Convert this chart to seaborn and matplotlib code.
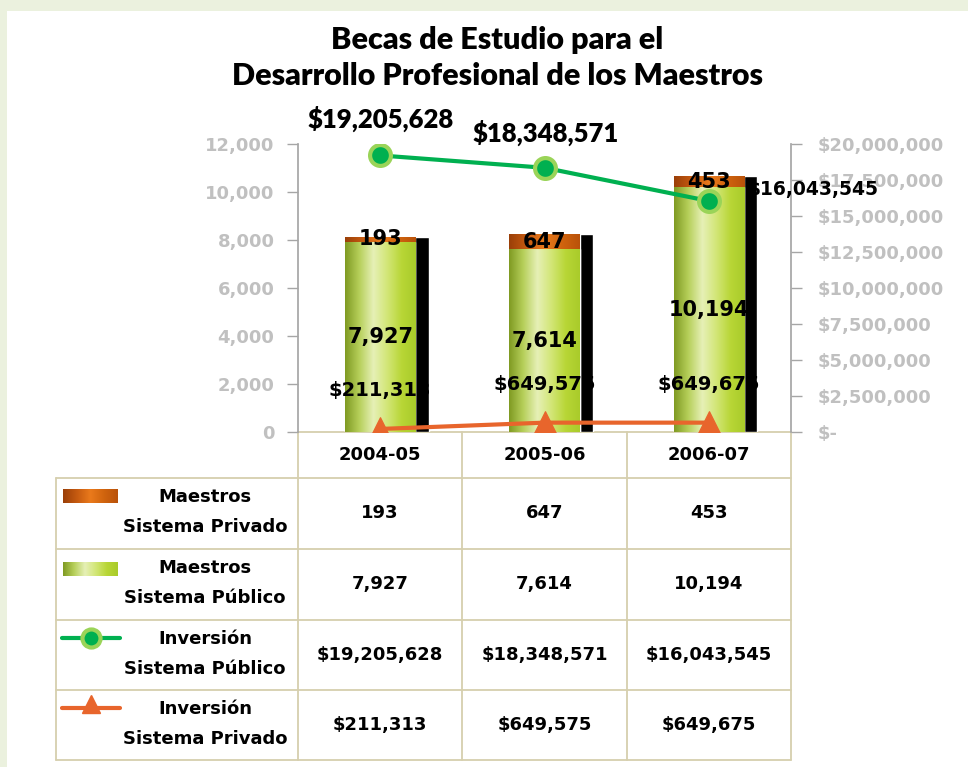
import numpy as np
import matplotlib.pyplot as plt
import seaborn as sns
from matplotlib.colors import LinearSegmentedColormap
from matplotlib.patches import Rectangle
from matplotlib.lines import Line2D

years = ['2004-05', '2005-06', '2006-07']
maestros_privado = [193, 647, 453]
maestros_publico = [7927, 7614, 10194]
inversion_publico = [19205628, 18348571, 16043545]
inversion_privado = [211313, 649575, 649675]

row_titles = [('Maestros', 'Sistema Privado'), ('Maestros', 'Sistema Público'),
              ('Inversión', 'Sistema Público'), ('Inversión', 'Sistema Privado')]
left_ticks = list(range(0, 12001, 2000))
right_ticks = [i * 2500000 for i in range(9)]

W, H = 968, 767
GREEN_LINE = '#00b050'
ORANGE_LINE = '#e8652c'
TABLE_LINE = '#d6cfae'

sns.set_theme(style='white')
plt.rcParams['font.family'] = ['Lato', 'DejaVu Sans']
plt.rcParams['text.color'] = 'black'

green_cmap = LinearSegmentedColormap.from_list(
    'cyl_green', ['#7f9a22', '#b6cf5a', '#e6f0b6', '#d2e676', '#b8d636', '#a9cb2a'])
orange_cmap = LinearSegmentedColormap.from_list(
    'cyl_orange', ['#9a3f08', '#c55a10', '#ea7a1c', '#d0640e', '#b9520a'])

fig = plt.figure(figsize=(W / 100, H / 100), dpi=100, facecolor='#ebf1de')

# pixel-space layer for background, title and the data table
lay = fig.add_axes([0, 0, 1, 1])
lay.set_xlim(0, W)
lay.set_ylim(H, 0)
lay.axis('off')
lay.add_patch(Rectangle((7, 11), W, H, facecolor='white', edgecolor='none', zorder=0))

lay.text(497, 40, 'Becas de Estudio para el', ha='center', va='center',
         fontsize=22, fontweight='heavy')
lay.text(497, 76, 'Desarrollo Profesional de los Maestros', ha='center', va='center',
         fontsize=22, fontweight='heavy')

# main chart area
ax_l, ax_t, ax_r, ax_b = 298, 144, 791, 432
ax = fig.add_axes([ax_l / W, 1 - ax_b / H, (ax_r - ax_l) / W, (ax_b - ax_t) / H])
ax.set_facecolor('none')

totals = [a + b for a, b in zip(maestros_publico, maestros_privado)]
bw = 0.43
ax.bar(np.arange(len(years)) + 0.08, totals, width=bw, color='black', zorder=0.5)
sns.barplot(x=years, y=totals, color='#e36c09', width=bw, saturation=1, ax=ax)
sns.barplot(x=years, y=maestros_publico, color='#b5d334', width=bw, saturation=1, ax=ax)


def fill_gradient(patch, cmap, z):
    x0, y0 = patch.get_x(), patch.get_y()
    w, h = patch.get_width(), patch.get_height()
    im = ax.imshow(np.linspace(0, 1, 256)[None, :], cmap=cmap, aspect='auto',
                   extent=(x0, x0 + w, y0, y0 + h), origin='lower',
                   interpolation='bilinear', zorder=z)
    im.set_clip_path(patch)


n = len(years)
bars = [p for p in ax.patches if p.get_facecolor()[:3] != (0, 0, 0)]
for p in bars[:n]:
    fill_gradient(p, orange_cmap, 1.1)
for p in bars[n:2 * n]:
    fill_gradient(p, green_cmap, 1.2)

for i in range(n):
    ax.text(i, maestros_publico[i] / 2, f'{maestros_publico[i]:,}', ha='center', va='center',
            fontsize=15, family='DejaVu Sans', fontweight='bold', zorder=5)
    ax.text(i, maestros_publico[i] + maestros_privado[i] / 2, f'{maestros_privado[i]:,}',
            ha='center', va='center', fontsize=15, family='DejaVu Sans', fontweight='bold',
            zorder=5)

ax.set_xlim(-0.5, n - 0.5)
ax.set_ylim(0, 12000)
ax.set_xticks([])
ax.set_xlabel('')
ax.set_ylabel('')
ax.set_yticks(left_ticks, labels=[f'{v:,}' for v in left_ticks],
              fontweight='bold', family='DejaVu Sans')
ax.tick_params(axis='y', left=True, direction='out', length=8, width=1, color='#a6a6a6',
               pad=9, labelsize=13, labelcolor='#c0c0c0')
for side in ['top', 'right', 'bottom']:
    ax.spines[side].set_visible(False)
ax.spines['left'].set_color('#a6a6a6')

# investment lines on secondary axis
ax2 = ax.twinx()
idx = np.arange(n)
sns.lineplot(x=idx, y=inversion_publico, ax=ax2, color=GREEN_LINE, lw=3, marker='o',
             markersize=15, markerfacecolor=GREEN_LINE, markeredgecolor='#9ad458',
             markeredgewidth=3, legend=False)
sns.lineplot(x=idx, y=inversion_privado, ax=ax2, color=ORANGE_LINE, lw=3, marker='^',
             markersize=17, markerfacecolor=ORANGE_LINE, markeredgecolor=ORANGE_LINE,
             legend=False)
ax2.set_ylim(0, 20000000)
ax2.set_xlim(-0.5, n - 0.5)
ax2.set_xticks([])
ax2.set_xlabel('')
ax2.set_ylabel('')
ax2.set_yticks(right_ticks, labels=['$-' if v == 0 else f'${v:,}' for v in right_ticks],
               fontweight='bold', family='DejaVu Sans')
ax2.tick_params(axis='y', right=True, direction='out', length=8, width=1, color='#a6a6a6',
                pad=11, labelsize=13, labelcolor='#c0c0c0')
for side in ['top', 'left', 'bottom']:
    ax2.spines[side].set_visible(False)
ax2.spines['right'].set_color('#a6a6a6')

pub_offsets = [(0, 37), (1, 35), (104, 11)]
for i, v in enumerate(inversion_publico):
    fam = 'Lato' if i < 2 else 'DejaVu Sans'
    fs = 18.5 if i < 2 else 13.5
    fw = 'heavy' if i < 2 else 'bold'
    ax2.annotate(f'${v:,}', (i, v), xytext=pub_offsets[i], textcoords='offset pixels',
                 ha='center', va='center', fontsize=fs, fontweight=fw, family=fam)
for i, v in enumerate(inversion_privado):
    ax2.annotate(f'${v:,}', (i, v), xytext=(0, 38), textcoords='offset pixels',
                 ha='center', va='center', fontsize=14, fontweight='bold', family='DejaVu Sans')

# data table below the chart
col_x = [ax_l + k * (ax_r - ax_l) / n for k in range(n + 1)]
row_y = [432, 478, 549, 620, 690, 760]
tab_left = 56
lw = 1.3
lay.plot([col_x[0], col_x[-1]], [row_y[0], row_y[0]], color=TABLE_LINE, lw=lw)
for y in row_y[1:]:
    lay.plot([tab_left, col_x[-1]], [y, y], color=TABLE_LINE, lw=lw)
for x in col_x:
    lay.plot([x, x], [row_y[0], row_y[-1]], color=TABLE_LINE, lw=lw)
lay.plot([tab_left, tab_left], [row_y[1], row_y[-1]], color=TABLE_LINE, lw=lw)

centers = [(col_x[k] + col_x[k + 1]) / 2 for k in range(n)]
tkw = dict(ha='center', va='center', fontsize=13, fontweight='bold', family='DejaVu Sans')
for k, yr in enumerate(years):
    lay.text(centers[k], (row_y[0] + row_y[1]) / 2, yr, **tkw)

rows = [[f'{v:,}' for v in maestros_privado],
        [f'{v:,}' for v in maestros_publico],
        [f'${v:,}' for v in inversion_publico],
        [f'${v:,}' for v in inversion_privado]]
for r, vals in enumerate(rows):
    top, bot = row_y[r + 1], row_y[r + 2]
    for k, s in enumerate(vals):
        lay.text(centers[k], (top + bot) / 2, s, **tkw)
    lay.text(205, top + 19, row_titles[r][0], **tkw)
    lay.text(205, top + 49, row_titles[r][1], **tkw)

# legend keys inside the table
sw_y = [row_y[1] + 11, row_y[2] + 13]
for y, cmap in zip(sw_y, [orange_cmap, green_cmap]):
    lay.imshow(np.linspace(0, 1, 256)[None, :], cmap=cmap, aspect='auto',
               extent=(63, 118, y + 14, y), interpolation='bilinear', zorder=3)
lay.add_line(Line2D([62, 120], [row_y[3] + 18] * 2, color=GREEN_LINE, lw=3, zorder=3))
lay.add_line(Line2D([91], [row_y[3] + 18], marker='o', markersize=13, zorder=4,
                    markerfacecolor=GREEN_LINE, markeredgecolor='#9ad458', markeredgewidth=3))
lay.add_line(Line2D([62, 120], [row_y[4] + 18] * 2, color=ORANGE_LINE, lw=3, zorder=3))
lay.add_line(Line2D([91], [row_y[4] + 14], marker='^', markersize=13, color=ORANGE_LINE,
                    zorder=4))
lay.set_xlim(0, W)
lay.set_ylim(H, 0)

fig.savefig('out.png', dpi=100, facecolor=fig.get_facecolor())
